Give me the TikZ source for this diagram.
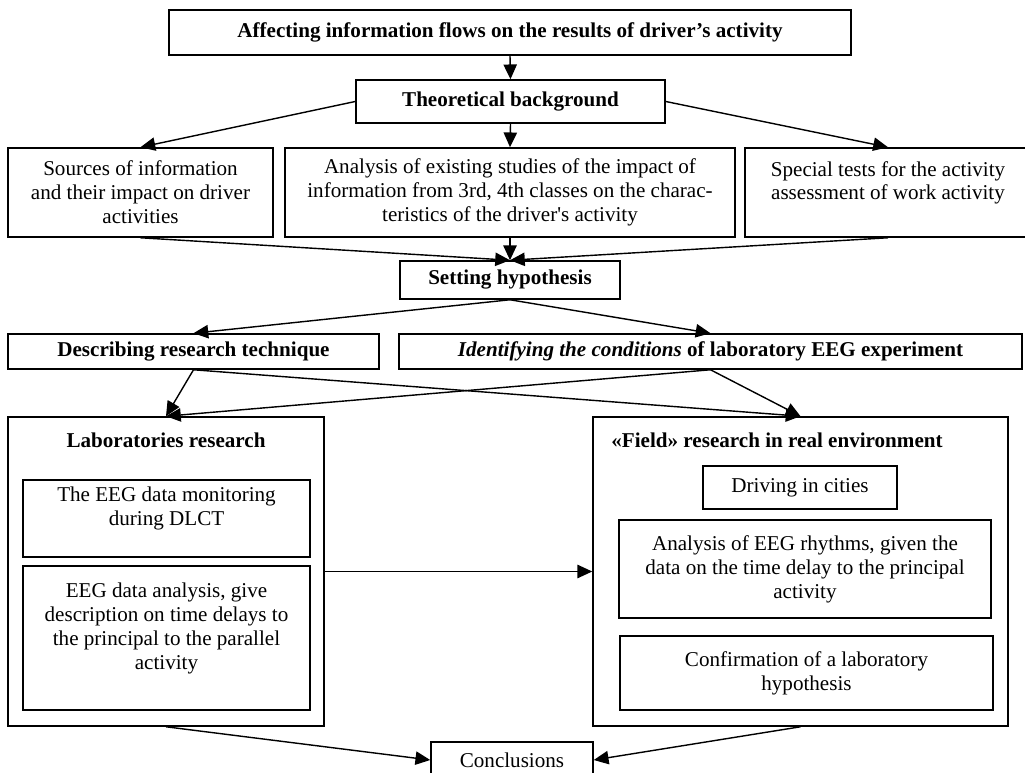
\documentclass[tikz,border=0pt]{standalone}
\usepackage{fontspec}
\setmainfont{Liberation Serif}
\usetikzlibrary{arrows.meta}

\tikzset{
  box/.style={draw, line width=1.1pt, rectangle, inner sep=2pt, align=center,
    font=\fontsize{15}{17}\selectfont},
  bbox/.style={box, font=\fontsize{15}{17}\selectfont\bfseries},
  flow/.style={line width=1pt, -{Triangle[length=10.5pt,width=9.5pt]}}
}

\begin{document}
\begin{tikzpicture}[x=0.025cm, y=-0.025cm]
  \useasboundingbox (0,0) rectangle (1025,773);
  \clip (0,0) rectangle (1025,773);

  % upper part
  \node[bbox, minimum width=682*0.025cm, minimum height=45*0.025cm] (aim) at (510,32.5)
    {Affecting information flows on the results of driver’s activity};
  \node[bbox, minimum width=309*0.025cm, minimum height=43*0.025cm] (theory) at (510.5,101.5)
    {Theoretical background};
  \node[box, minimum width=265*0.025cm, minimum height=89*0.025cm] (sources) at (140.5,192.5)
    {Sources of information\\and their impact on driver\\activities};
  \node[box, minimum width=450*0.025cm, minimum height=89*0.025cm] (studies) at (510,192.5)
    {Analysis of existing studies of the impact of\\information from 3rd, 4th classes on the charac-\\teristics of the driver\textquotesingle s activity};
  \node[box, minimum width=286*0.025cm, minimum height=89*0.025cm] (tests) at (888,192.5)
    {Special tests for the activity\\assessment of work activity\\ \mbox{}};
  \node[bbox, minimum width=220*0.025cm, minimum height=38*0.025cm] (hypo) at (510,280)
    {Setting hypothesis};
  \node[bbox, minimum width=371*0.025cm, minimum height=35*0.025cm] (technique) at (193.5,351.5)
    {Describing research technique};
  \node[bbox, minimum width=623*0.025cm, minimum height=35*0.025cm] (conditions) at (710.5,351.5)
    {\textit{Identifying the conditions} of laboratory EEG experiment};

  % laboratories research
  \node[box, minimum width=316*0.025cm, minimum height=309*0.025cm] (lab) at (166,571.5) {};
  \node[font=\fontsize{15}{17}\selectfont\bfseries] (labtitle) at (166,440) {Laboratories research};
  \node[box, minimum width=287*0.025cm, minimum height=77*0.025cm] (monitor) at (166.5,518.5)
    {The EEG data monitoring\\during DLCT\\ \mbox{}};
  \node[box, minimum width=287*0.025cm, minimum height=144*0.025cm] (labdata) at (166.5,638)
    {EEG data analysis, give\\description on time delays to\\the principal to the parallel\\activity\\ \mbox{}};

  % field research
  \node[box, minimum width=415*0.025cm, minimum height=309*0.025cm] (field) at (800.5,571.5) {};
  \node[font=\fontsize{15}{17}\selectfont\bfseries] (fieldtitle) at (777,440)
    {«Field» research in real environment};
  \node[box, minimum width=194*0.025cm, minimum height=43*0.025cm] (cities) at (800,487.5)
    {Driving in cities};
  \node[box, minimum width=372*0.025cm, minimum height=98*0.025cm] (rhythms) at (805,569)
    {Analysis of EEG rhythms, given the\\data on the time delay to the principal\\activity};
  \node[box, minimum width=373*0.025cm, minimum height=74*0.025cm] (confirm) at (806.5,673)
    {Confirmation of a laboratory\\hypothesis};

  \node[box, minimum width=162*0.025cm, minimum height=36*0.025cm] (concl) at (512,760)
    {Conclusions};

  % connectors
  \draw[flow] (aim.south) -- (theory.north);
  \draw[flow] (theory.west) -- (sources.north);
  \draw[flow] (theory.south) -- (studies.north);
  \draw[flow] (theory.east) -- (tests.north);
  \draw[flow] (sources.south) -- (hypo.north);
  \draw[flow] (studies.south) -- (hypo.north);
  \draw[flow] (tests.south) -- (hypo.north);
  \draw[flow] (hypo.south) -- (technique.north);
  \draw[flow] (hypo.south) -- (conditions.north);
  \draw[flow] (technique.south) -- (lab.north);
  \draw[flow] (technique.south) -- (field.north);
  \draw[flow] (conditions.south) -- (lab.north);
  \draw[flow] (conditions.south) -- (field.north);
  \draw[flow] (lab.east) -- (field.west);
  \draw[flow] (lab.south) -- (concl.west);
  \draw[flow] (field.south) -- (concl.east);
\end{tikzpicture}
\end{document}
